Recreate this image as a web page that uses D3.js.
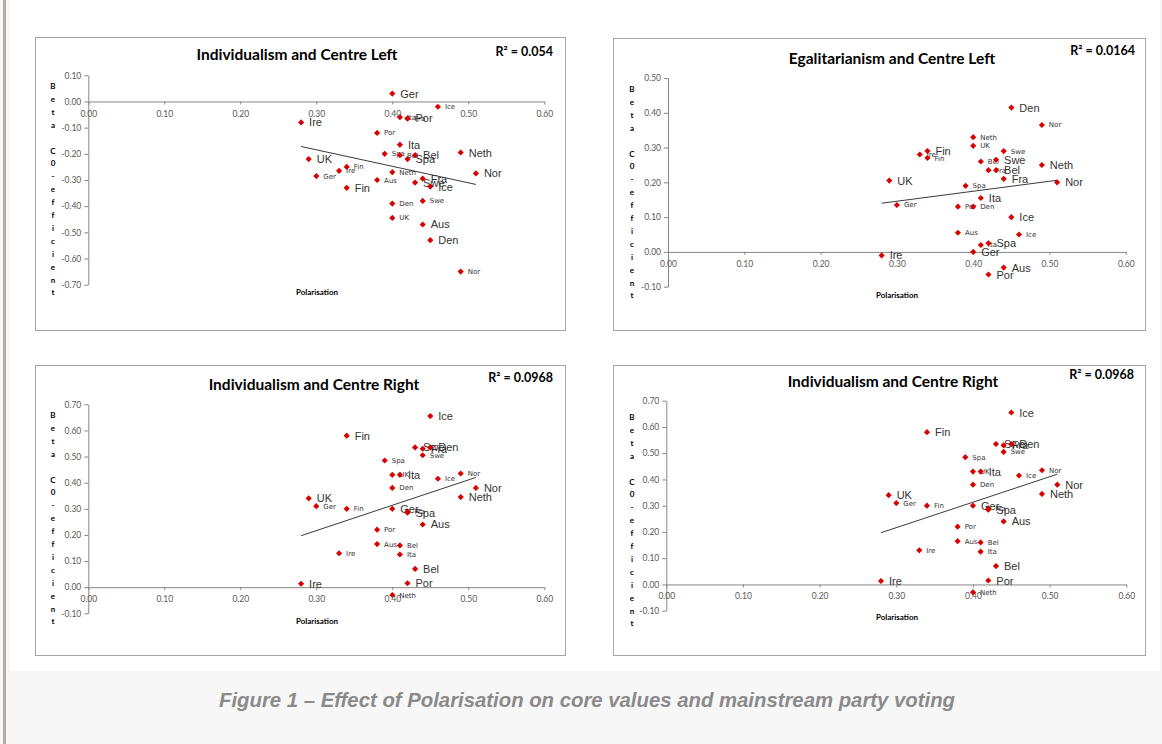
<!DOCTYPE html>
<html>
<head>
<meta charset="utf-8">
<script src="https://cdn.jsdelivr.net/npm/d3@7/dist/d3.min.js"></script>
<style>
  body { margin: 0; background: #f7f7f7; }
  svg { display: block; }
</style>
</head>
<body>
<div id="svg-container"></div>
<script>
////////////////////////////////////////////////////////////////////
////////////////////////////  Data  ////////////////////////////////
// Individualism and Centre Left
const p1SmallCountry = ["Ice", "Ita", "Fra", "Por", "Spa", "Bel", "Fin", "Ire", "Neth", "Ger", "Aus", "Swe", "Den", "UK", "Nor"];
const p1SmallX = [0.46, 0.41, 0.42, 0.38, 0.39, 0.41, 0.34, 0.33, 0.40, 0.30, 0.38, 0.44, 0.40, 0.40, 0.49];
const p1SmallY = [-0.02, -0.06, -0.065, -0.12, -0.20, -0.205, -0.25, -0.265, -0.27, -0.285, -0.30, -0.38, -0.39, -0.445, -0.65];
const p1LargeCountry = ["Ger", "Ire", "Por", "Ita", "Neth", "Bel", "Spa", "UK", "Nor", "Fra", "Swe", "Ice", "Fin", "Aus", "Den"];
const p1LargeX = [0.40, 0.28, 0.42, 0.41, 0.49, 0.43, 0.42, 0.29, 0.51, 0.44, 0.43, 0.45, 0.34, 0.44, 0.45];
const p1LargeY = [0.03, -0.08, -0.065, -0.165, -0.195, -0.205, -0.22, -0.22, -0.275, -0.295, -0.31, -0.325, -0.33, -0.47, -0.53];
const p1TrendX = [0.28, 0.51];
const p1TrendY = [-0.172, -0.317];

// Egalitarianism and Centre Left
const p2SmallCountry = ["Nor", "Neth", "UK", "Swe", "Ire", "Fin", "Bel", "Fra", "Spa", "Ger", "Por", "Den", "Aus", "Ice", "Ita"];
const p2SmallX = [0.49, 0.40, 0.40, 0.44, 0.33, 0.34, 0.41, 0.42, 0.39, 0.30, 0.38, 0.40, 0.38, 0.46, 0.41];
const p2SmallY = [0.365, 0.33, 0.305, 0.29, 0.28, 0.27, 0.26, 0.235, 0.19, 0.135, 0.13, 0.13, 0.055, 0.05, 0.02];
const p2LargeCountry = ["Den", "Fin", "Swe", "Neth", "Bel", "Fra", "UK", "Nor", "Ita", "Ice", "Spa", "Ger", "Ire", "Aus", "Por"];
const p2LargeX = [0.45, 0.34, 0.43, 0.49, 0.43, 0.44, 0.29, 0.51, 0.41, 0.45, 0.42, 0.40, 0.28, 0.44, 0.42];
const p2LargeY = [0.415, 0.29, 0.265, 0.25, 0.235, 0.21, 0.205, 0.20, 0.155, 0.10, 0.025, 0.00, -0.01, -0.045, -0.065];
const p2TrendX = [0.28, 0.51];
const p2TrendY = [0.140, 0.206];

// Individualism and Centre Right (shown twice)
const p3SmallCountry = ["Swe", "Spa", "Nor", "UK", "Ice", "Den", "Ger", "Fin", "Fra", "Por", "Aus", "Bel", "Ire", "Ita", "Neth"];
const p3SmallX = [0.44, 0.39, 0.49, 0.40, 0.46, 0.40, 0.30, 0.34, 0.42, 0.38, 0.38, 0.41, 0.33, 0.41, 0.40];
const p3SmallY = [0.505, 0.485, 0.435, 0.43, 0.415, 0.38, 0.31, 0.30, 0.29, 0.22, 0.165, 0.16, 0.13, 0.125, -0.03];
const p3LargeCountry = ["Ice", "Fin", "Swe", "Fra", "Den", "Ita", "Nor", "Neth", "UK", "Ger", "Spa", "Aus", "Bel", "Por", "Ire"];
const p3LargeX = [0.45, 0.34, 0.43, 0.44, 0.45, 0.41, 0.51, 0.49, 0.29, 0.40, 0.42, 0.44, 0.43, 0.42, 0.28];
const p3LargeY = [0.655, 0.58, 0.535, 0.53, 0.535, 0.43, 0.38, 0.345, 0.34, 0.30, 0.285, 0.24, 0.07, 0.015, 0.013];
const p3TrendX = [0.28, 0.51];
const p3TrendY = [0.197, 0.42];

const titles = ["Individualism and Centre Left", "Egalitarianism and Centre Left", "Individualism and Centre Right", "Individualism and Centre Right"];
const rSquared = ["R² = 0.054", "R² = 0.0164", "R² = 0.0968", "R² = 0.0968"];
const yDomains = [[-0.7, 0.1], [-0.1, 0.5], [-0.1, 0.7], [-0.1, 0.7]];
const xDomain = [0, 0.6];
const yLabelLetters = ["B", "e", "t", "a", "", "C", "0", "-", "e", "f", "f", "i", "c", "i", "e", "n", "t"];
const caption = "Figure 1 – Effect of Polarisation on core values and mainstream party voting";

////////////////////////////////////////////////////////////////////
////////////////////////////  Init  ////////////////////////////////
const width = 1162;
const height = 744;
const svg = d3.select("#svg-container").append("svg")
  .attr("width", width).attr("height", height);

// page background
svg.append("rect").attr("width", width).attr("height", height).attr("fill", "#f7f7f7");
svg.append("rect").attr("x", 10).attr("y", 0).attr("width", width - 12).attr("height", 671).attr("fill", "#ffffff");
svg.append("rect").attr("x", 3).attr("y", 0).attr("width", 3).attr("height", height).attr("fill", "#b3ada5");

const zip = (c, x, y) => c.map((d, i) => ({ name: d, x: x[i], y: y[i] }));

// layout of each chart box
const layouts = [
  { box: [35, 37, 530, 293], xr: [88.3, 544.3], yr: [284.7, 75.3], tx: 297, ty: 54, rx: 553, ry: 51, px: 317, py: 292, lx: 53, ly: 86,
    small: zip(p1SmallCountry, p1SmallX, p1SmallY), large: zip(p1LargeCountry, p1LargeX, p1LargeY), trend: zip(["a", "b"], p1TrendX, p1TrendY) },
  { box: [613, 38, 532, 292], xr: [668, 1125.8], yr: [286.7, 78], tx: 892, ty: 58, rx: 1135, ry: 50, px: 897, py: 295, lx: 632, ly: 89,
    small: zip(p2SmallCountry, p2SmallX, p2SmallY), large: zip(p2LargeCountry, p2LargeX, p2LargeY), trend: zip(["a", "b"], p2TrendX, p2TrendY) },
  { box: [35, 365, 530, 290], xr: [88.3, 544.3], yr: [613.3, 404.3], tx: 314, ty: 384, rx: 553, ry: 377, px: 317, py: 621, lx: 53, ly: 415,
    small: zip(p3SmallCountry, p3SmallX, p3SmallY), large: zip(p3LargeCountry, p3LargeX, p3LargeY), trend: zip(["a", "b"], p3TrendX, p3TrendY) },
  { box: [613, 365, 532, 290], xr: [666.3, 1126.3], yr: [610.7, 400.7], tx: 893, ty: 381, rx: 1134, ry: 374, px: 897, py: 617, lx: 632, ly: 417,
    small: zip(p3SmallCountry, p3SmallX, p3SmallY), large: zip(p3LargeCountry, p3LargeX, p3LargeY), trend: zip(["a", "b"], p3TrendX, p3TrendY) }
];

const fmt = (d) => (Math.abs(d) < 1e-9 ? 0 : d).toFixed(2);
const diamond = d3.symbol().type(d3.symbolSquare).size(19);

layouts.forEach((L, i) => {
  const g = svg.append("g");

  // frame
  g.append("rect")
    .attr("x", L.box[0] + 0.5).attr("y", L.box[1] + 0.5)
    .attr("width", L.box[2]).attr("height", L.box[3])
    .attr("fill", "#ffffff").attr("stroke", "#a6a6a6").attr("stroke-width", 1);

  // scales
  const xScale = d3.scaleLinear().domain(xDomain).range(L.xr);
  const yScale = d3.scaleLinear().domain(yDomains[i]).range(L.yr);

  // y axis
  const yAxis = d3.axisLeft(yScale).ticks(8).tickFormat(fmt).tickSize(4).tickSizeOuter(0).tickPadding(3);
  const gy = g.append("g").attr("transform", "translate(" + L.xr[0] + ",0)").call(yAxis);
  // x axis at y = 0
  const xAxis = d3.axisBottom(xScale).ticks(6).tickFormat(fmt).tickSize(3).tickSizeOuter(0).tickPadding(6);
  const gx = g.append("g").attr("transform", "translate(0," + yScale(0) + ")").call(xAxis);

  [gx, gy].forEach((ax) => {
    ax.select(".domain").attr("stroke", "#868686");
    ax.selectAll(".tick line").attr("stroke", "#868686");
    ax.selectAll(".tick text")
      .attr("fill", "#595959")
      .style("font-family", "Lato, 'Open Sans', sans-serif")
      .style("font-size", "8.5px");
  });

  // trend line
  const line = d3.line().x((d) => xScale(d.x)).y((d) => yScale(d.y));
  g.append("path").datum(L.trend).attr("d", line)
    .attr("fill", "none").attr("stroke", "#3a3a3a").attr("stroke-width", 1);

  // points: small labelled series
  const sm = g.append("g").selectAll("g").data(L.small).join("g")
    .attr("transform", (d) => "translate(" + xScale(d.x) + "," + yScale(d.y) + ")");
  sm.append("path").attr("d", diamond).attr("transform", "rotate(45)").attr("fill", "#d90000");
  sm.append("text").attr("x", 7).attr("y", 2.5).text((d) => d.name)
    .attr("fill", "#333").style("font-family", "'DejaVu Sans', sans-serif").style("font-size", "7px");

  // points: large labelled series
  const lg = g.append("g").selectAll("g").data(L.large).join("g")
    .attr("transform", (d) => "translate(" + xScale(d.x) + "," + yScale(d.y) + ")");
  lg.append("path").attr("d", diamond).attr("transform", "rotate(45)").attr("fill", "#d90000");
  lg.append("text").attr("x", 8).attr("y", 4).text((d) => d.name)
    .attr("fill", "#333").style("font-family", "'Liberation Sans', Arial, sans-serif").style("font-size", "11px");

  // title & R²
  g.append("text").attr("x", L.tx).attr("y", L.ty).attr("text-anchor", "middle").attr("dominant-baseline", "central")
    .style("font-family", "Lato, sans-serif").style("font-weight", "bold").style("font-size", "15.5px")
    .attr("fill", "#000").text(titles[i]);
  g.append("text").attr("x", L.rx).attr("y", L.ry).attr("text-anchor", "end").attr("dominant-baseline", "central")
    .style("font-family", "Lato, sans-serif").style("font-weight", "bold").style("font-size", "12.5px")
    .attr("fill", "#000").text(rSquared[i]);

  // axis titles
  g.append("text").attr("x", L.px).attr("y", L.py).attr("text-anchor", "middle").attr("dominant-baseline", "central")
    .style("font-family", "Lato, sans-serif").style("font-weight", "bold").style("font-size", "8px")
    .attr("fill", "#000").text("Polarisation");
  g.append("g").selectAll("text").data(yLabelLetters).join("text")
    .attr("x", L.lx).attr("y", (d, k) => L.ly + k * 12.9)
    .attr("text-anchor", "middle").attr("dominant-baseline", "central")
    .style("font-family", "Lato, sans-serif").style("font-weight", "bold").style("font-size", "8px")
    .attr("fill", "#000").text((d) => d);
});

// caption
svg.append("text")
  .attr("x", 587).attr("y", 700).attr("text-anchor", "middle").attr("dominant-baseline", "central")
  .attr("textLength", 736).attr("lengthAdjust", "spacingAndGlyphs")
  .style("font-family", "'Liberation Sans Narrow', 'Liberation Sans', Arial, sans-serif")
  .style("font-weight", "bold").style("font-style", "italic").style("font-size", "20px")
  .attr("fill", "#8a8a8a").text(caption);
</script>
</body>
</html>
